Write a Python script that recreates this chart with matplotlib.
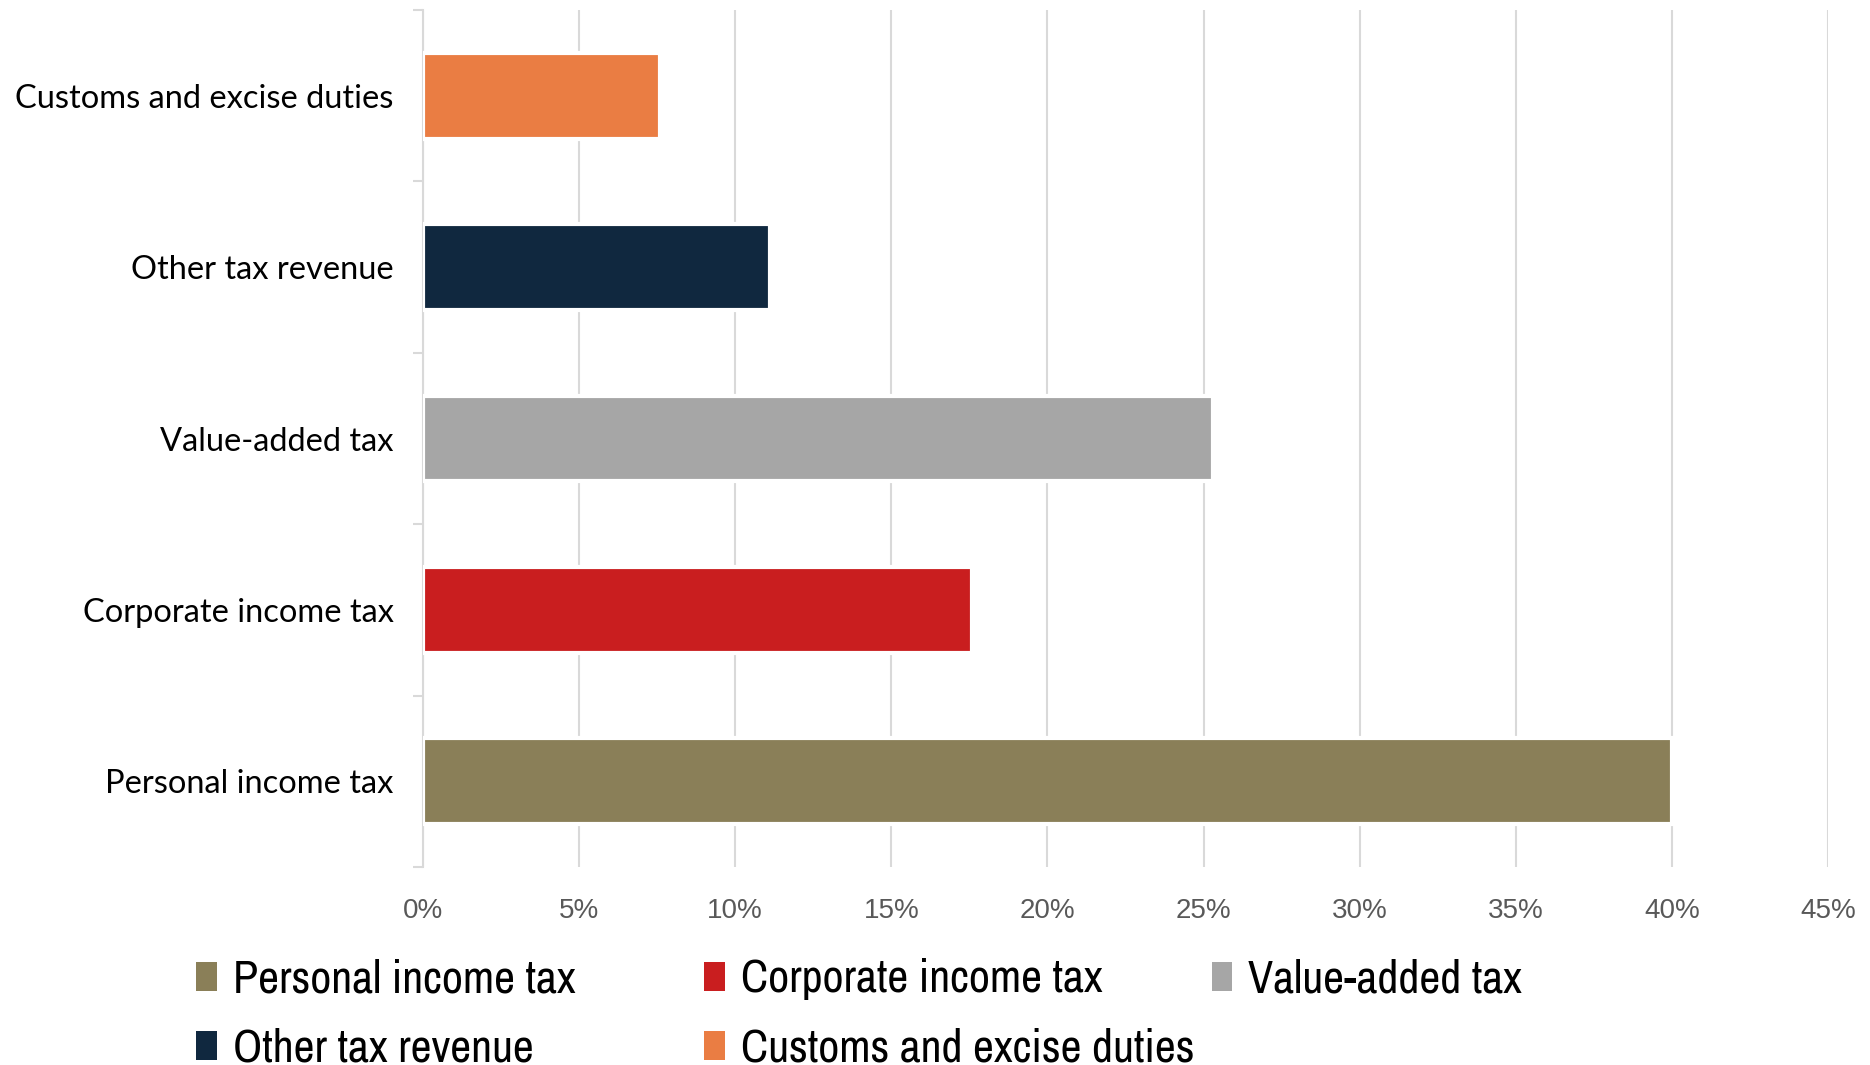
import matplotlib
matplotlib.use("Agg")
import matplotlib.pyplot as plt
from matplotlib.patches import Patch

# Data (share of total tax revenue, %)
categories = ["Personal income tax", "Corporate income tax", "Value-added tax",
              "Other tax revenue", "Customs and excise duties"]
shares = [40.0, 17.6, 25.3, 11.1, 7.6]
colors = ["#8A7F58", "#C91E1F", "#A6A6A6", "#10283F", "#EA7D43"]
xticks = [0, 5, 10, 15, 20, 25, 30, 35, 40, 45]
xtick_labels = [f"{t}%" for t in xticks]

legend_order = ["Personal income tax", "Corporate income tax", "Value-added tax",
                "Other tax revenue", "Customs and excise duties"]

fig = plt.figure(figsize=(18.7, 10.65), dpi=100)
ax = fig.add_axes([0.2262, 0.1859, 0.9775 - 0.2262, 0.9906 - 0.1859])

ypos = range(len(categories))
ax.barh(ypos, shares, height=0.5, color=colors, edgecolor="white", linewidth=3, zorder=3)
ax.set_xlim(0, 45)
ax.set_ylim(-0.5, len(categories) - 0.5)

# x axis
ax.set_xticks(xticks)
ax.set_xticklabels(xtick_labels, fontsize=20, color="#595959", family="Liberation Sans")
ax.tick_params(axis="x", length=0, pad=22)
ax.grid(axis="x", color="#D9D9D9", linewidth=1.5, zorder=0)

# y axis: boundary ticks as major, category labels on minor ticks
ax.set_yticks([i - 0.5 for i in range(len(categories) + 1)])
ax.set_yticklabels([])
ax.tick_params(axis="y", which="major", length=7, width=1.5, color="#D9D9D9")
ax.set_yticks(list(ypos), minor=True)
ax.set_yticklabels(categories, minor=True, fontsize=23.5, family="Lato", color="black")
ax.tick_params(axis="y", which="minor", length=0, pad=21)

for side in ["top", "right", "bottom"]:
    ax.spines[side].set_visible(False)
ax.spines["left"].set_color("#D9D9D9")
ax.spines["left"].set_linewidth(1.5)

# legend: 3 columns x 2 rows
col_x = [0.105, 0.3765, 0.648]
row_y = [0.0805, 0.0155]
for i, name in enumerate(legend_order):
    c = colors[categories.index(name)]
    h = Patch(facecolor=c, edgecolor="none")
    fig.legend(handles=[h], labels=[name], loc="center left",
               bbox_to_anchor=(col_x[i % 3], row_y[i // 3]), frameon=False,
               handlelength=0.45, handleheight=0.6, handletextpad=0.35,
               borderpad=0, borderaxespad=0,
               prop={"family": ["Archivo Narrow", "DejaVu Sans"], "size": 33})

fig.savefig("out.png", dpi=100)
